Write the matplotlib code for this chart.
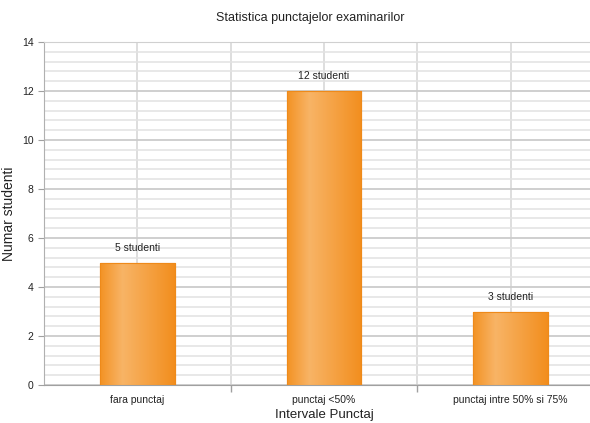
import matplotlib
matplotlib.use("Agg")
import matplotlib.pyplot as plt
import numpy as np
from matplotlib.colors import LinearSegmentedColormap
from matplotlib.ticker import MultipleLocator

categories = ["fara punctaj", "punctaj <50%", "punctaj intre 50% si 75%"]
values = [5, 12, 3]
labels = ["5 studenti", "12 studenti", "3 studenti"]

plt.rcParams['font.family'] = ['Liberation Sans', 'DejaVu Sans']

fig = plt.figure(figsize=(5.9, 4.23), dpi=100)
ax = fig.add_axes([44/590, 38/423, 560/590, 343/423])

x = np.arange(len(categories))
bars = ax.bar(x, values, width=0.4, color='#F5A040', edgecolor='#EE8A1A', linewidth=0.8, zorder=3)

cmap = LinearSegmentedColormap.from_list('og', [(0, '#F39224'), (0.3, '#F8B466'), (1, '#F28E1E')])
grad = np.linspace(0, 1, 256).reshape(1, -1)
for b in bars:
    x0, y0, w, h = b.get_x(), b.get_y(), b.get_width(), b.get_height()
    im = ax.imshow(grad, extent=[x0, x0 + w, y0, y0 + h], aspect='auto', cmap=cmap, zorder=3.5)
    im.set_clip_path(b)
    ax.add_patch(plt.Rectangle((x0, y0), w, h, fill=False, edgecolor='#EE8A1A', linewidth=0.8, zorder=4))

for b, lab in zip(bars, labels):
    ax.annotate(lab, (b.get_x() + b.get_width()/2, b.get_height()), xytext=(0, 7),
                textcoords='offset points', ha='center', va='bottom', fontsize=7.5, color='#222222')

ax.set_xlim(-0.5, 2.5)
ax.set_ylim(0, 14)
ax.yaxis.set_major_locator(MultipleLocator(2))
ax.yaxis.set_minor_locator(MultipleLocator(0.4))
ax.set_xticks(x)
ax.set_xticklabels(categories, fontsize=7.5, color='#222222')
ax.set_xticks([0.5, 1.5], minor=True)
ax.tick_params(axis='x', which='major', length=0, pad=7)
ax.tick_params(axis='x', which='minor', length=5, color='#a0a0a0', width=1)
ax.tick_params(axis='y', which='major', length=4, color='#a0a0a0', labelsize=7.5, labelcolor='#222222')
ax.tick_params(axis='y', which='minor', length=0)

ax.grid(axis='y', which='major', color='#cccccc', linewidth=1.3, zorder=0)
ax.grid(axis='y', which='minor', color='#e2e2e2', linewidth=1.1, zorder=0)
for xv in [0, 0.5, 1, 1.5, 2]:
    ax.axvline(xv, color='#d4d4d4', linewidth=1.1, zorder=0.5)

ax.spines['right'].set_visible(False)
ax.spines['left'].set_color('#b0b0b0')
ax.spines['bottom'].set_color('#a0a0a0')
ax.spines['top'].set_color('#d0d0d0')

ax.set_xlabel("Intervale Punctaj", fontsize=9.5, color='#222222')
ax.xaxis.set_label_coords((324 - 44)/560, -24/343)
ax.set_ylabel("Numar studenti", fontsize=10, color='#222222', fontweight='medium')
ax.yaxis.set_label_coords((16 - 44)/560, 0.5)
fig.text(310/590, 1 - 18/423, "Statistica punctajelor examinarilor", ha='center', va='center',
         fontsize=9, color='#222222')

fig.savefig("out.png", dpi=100)
